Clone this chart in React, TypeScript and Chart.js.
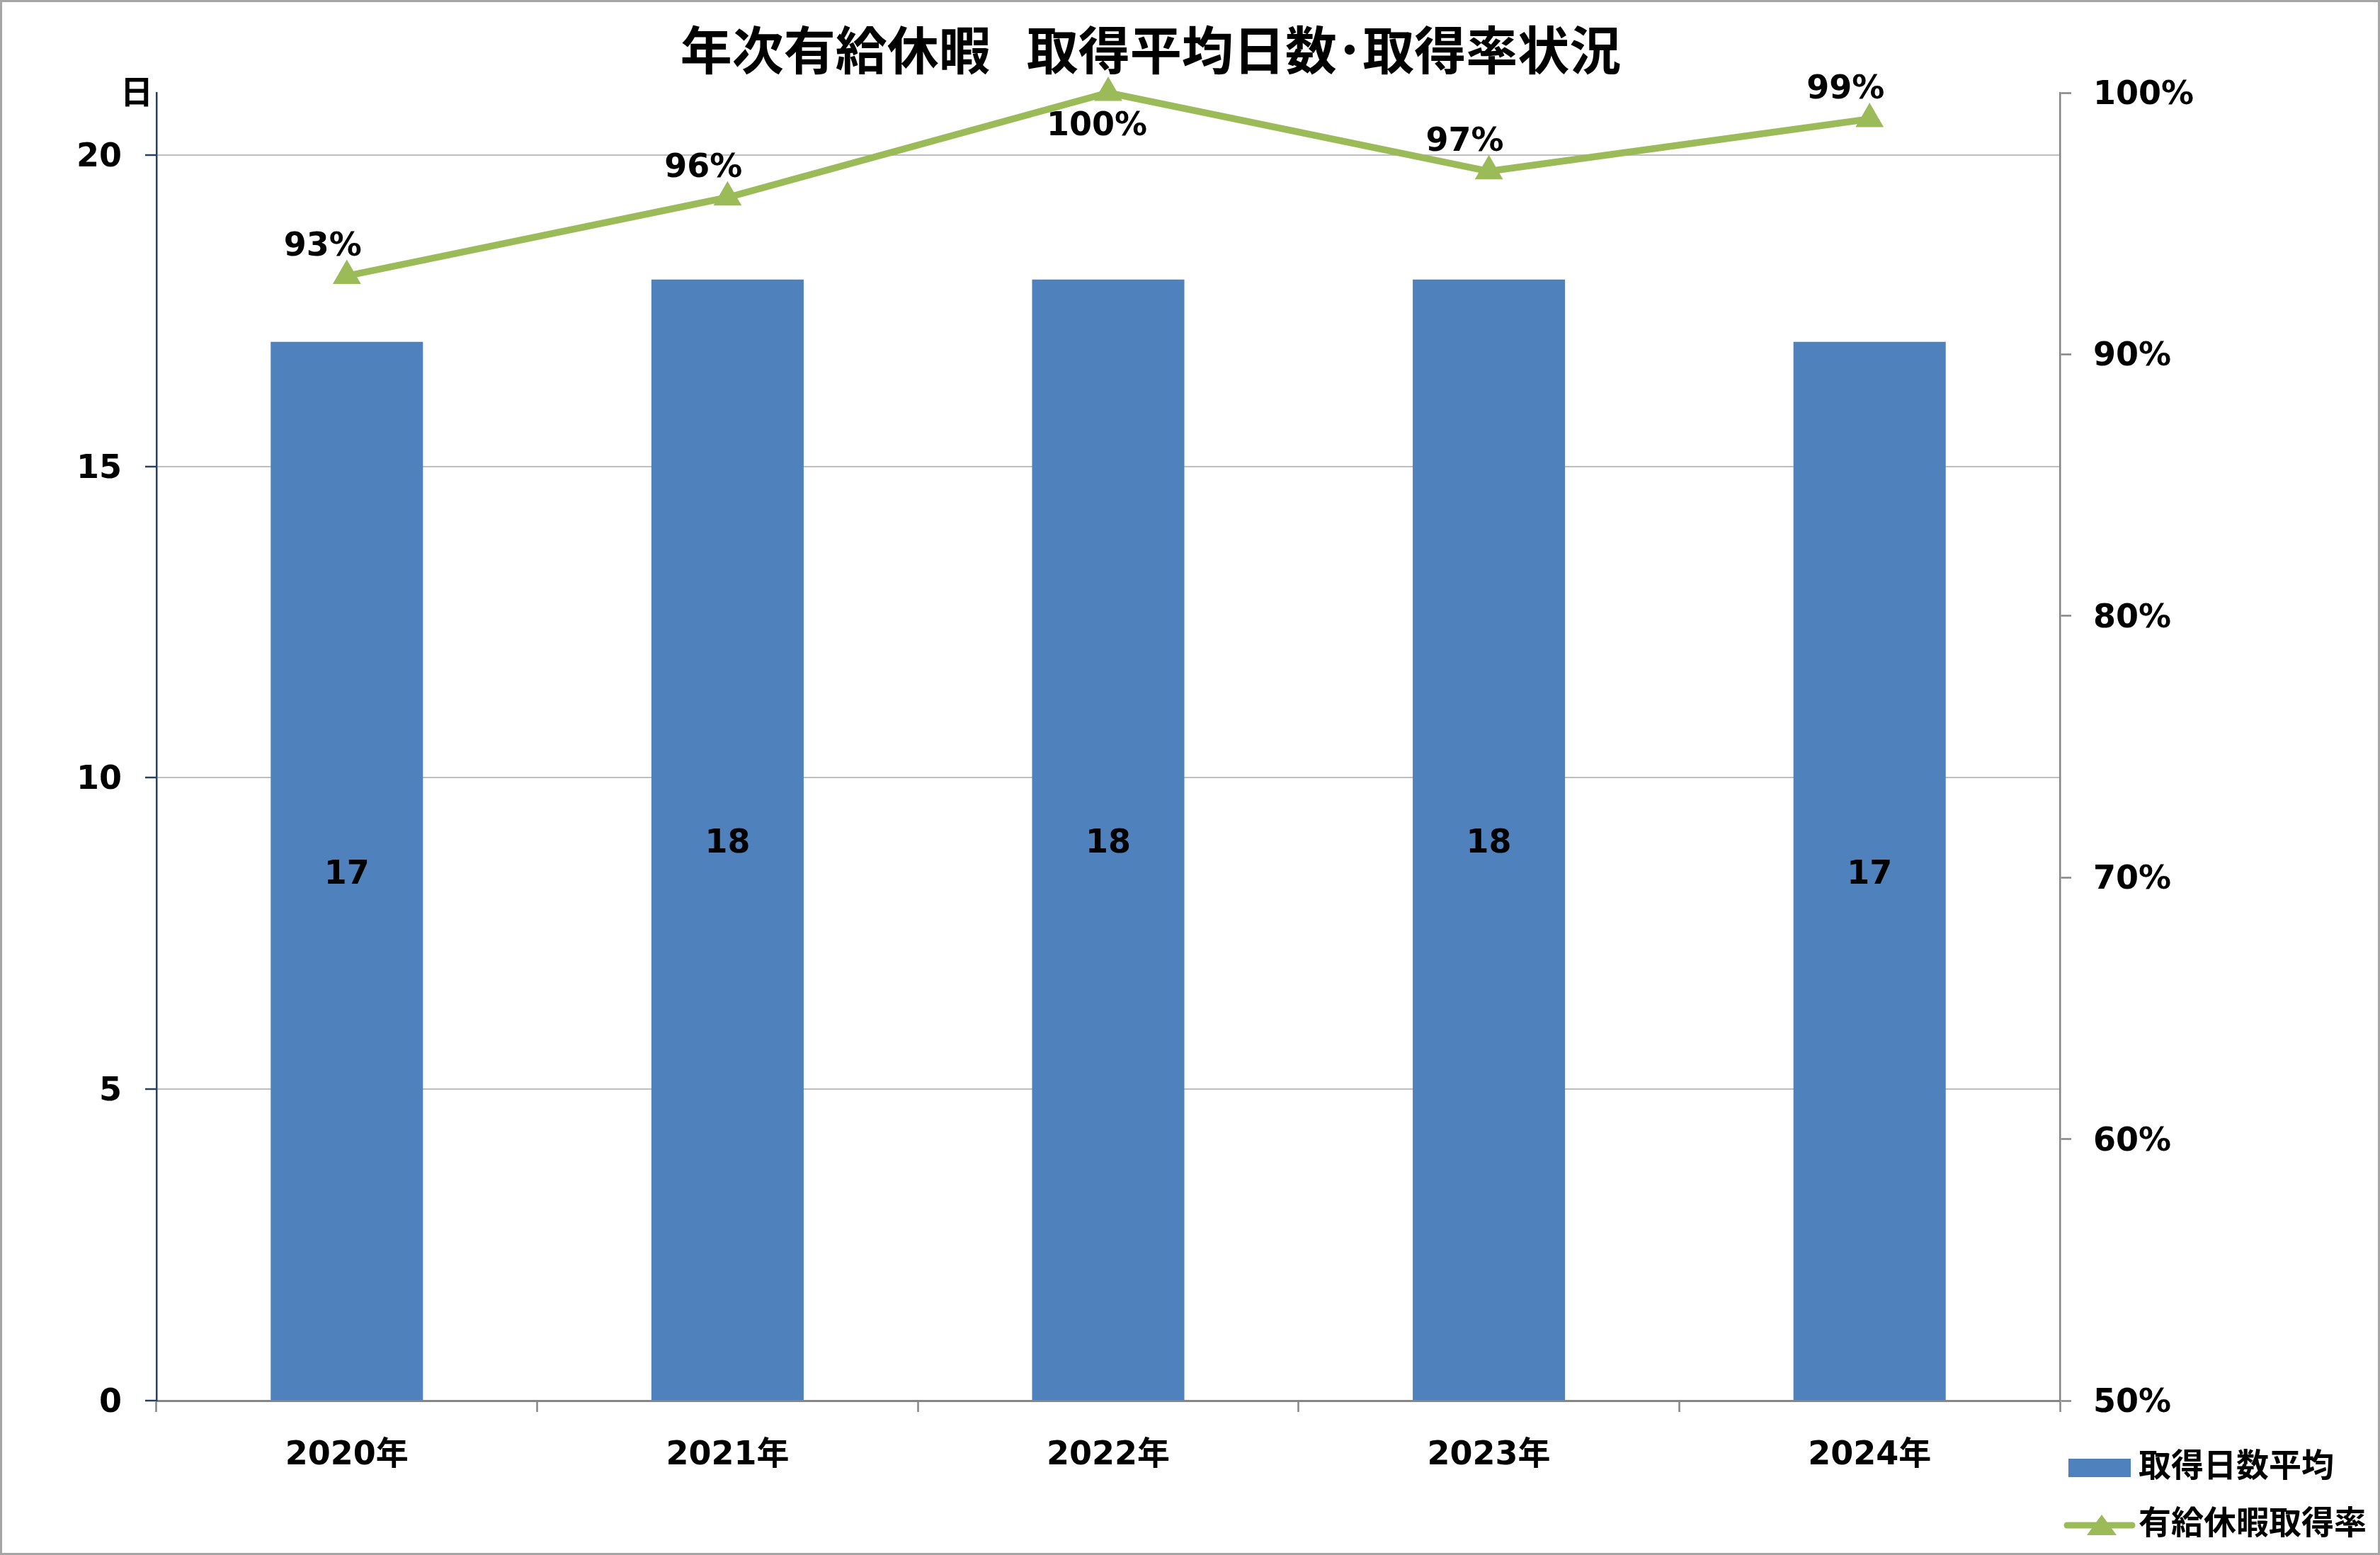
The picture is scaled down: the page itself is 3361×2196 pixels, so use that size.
import { useEffect, useRef } from "react"
import { Chart, registerables } from "chart.js"

Chart.register(...registerables)

const FONT = "'DejaVu Sans', 'Noto Sans CJK JP', sans-serif"
const BAR_COLOR = "#4F81BD"
const LINE_COLOR = "#9BBB59"
const AXIS_GRAY = "#868686"
const GRID_GRAY = "#BFBFBF"
const NAVY = "#254061"

const title = "年次有給休暇  取得平均日数･取得率状況"
const years = ["2020年", "2021年", "2022年", "2023年", "2024年"]
const avgDays = [17, 18, 18, 18, 17]
const takeRate = [93, 96, 100, 97, 99]
const dayTicks = [0, 5, 10, 15, 20]
const rateTicks = [50, 60, 70, 80, 90, 100]
const dayUnit = "日"

const tickFont = { family: FONT, size: 46, weight: "bold" as const }

// numbers on the bars and above the line points
const valueLabels = {
  id: "valueLabels",
  afterDatasetsDraw(chart: any) {
    const { ctx } = chart
    ctx.save()
    ctx.font = `bold 46px ${FONT}`
    ctx.fillStyle = "#000"
    ctx.textAlign = "center"
    ctx.textBaseline = "middle"
    chart.getDatasetMeta(0).data.forEach((bar: any, i: number) => {
      ctx.fillText(String(avgDays[i]), bar.x, (bar.y + bar.base) / 2 + 6)
    })
    const rateMax = chart.scales.y1.max
    chart.getDatasetMeta(1).data.forEach((pt: any, i: number) => {
      const v = takeRate[i]
      const below = v >= rateMax
      ctx.fillText(`${v}%`, pt.x + (below ? -16 : -34), pt.y + (below ? 48 : -41))
    })
    ctx.restore()
  },
}

// unit label on top of the left axis + legend in the lower right corner
const extras = {
  id: "extras",
  afterDraw(chart: any) {
    const { ctx, chartArea } = chart
    const sets = chart.data.datasets
    ctx.save()
    ctx.font = `bold 46px ${FONT}`
    ctx.fillStyle = "#000"
    ctx.textAlign = "center"
    ctx.textBaseline = "middle"
    ctx.fillText(dayUnit, chartArea.left - 28, chartArea.top + 3)

    const r = chartArea.right
    const y1 = chartArea.bottom + 95
    const y2 = chartArea.bottom + 176

    ctx.fillStyle = BAR_COLOR
    ctx.fillRect(r + 12, y1 - 13, 88, 26)

    ctx.strokeStyle = LINE_COLOR
    ctx.lineWidth = 9
    ctx.lineCap = "round"
    ctx.beginPath()
    ctx.moveTo(r + 10, y2)
    ctx.lineTo(r + 102, y2)
    ctx.stroke()
    ctx.fillStyle = LINE_COLOR
    ctx.beginPath()
    ctx.moveTo(r + 59, y2 - 15)
    ctx.lineTo(r + 80, y2 + 14)
    ctx.lineTo(r + 38, y2 + 14)
    ctx.closePath()
    ctx.fill()

    ctx.fillStyle = "#000"
    ctx.textAlign = "left"
    ctx.fillText(sets[0].label, r + 111, y1)
    ctx.fillText(sets[1].label, r + 111, y2)
    ctx.restore()
  },
}

function ComboChart() {
  const chartRef = useRef<HTMLCanvasElement>(null)
  const chartInstance = useRef<Chart | null>(null)

  useEffect(() => {
    if (!chartRef.current) return
    if (chartInstance.current) chartInstance.current.destroy()
    const ctx = chartRef.current.getContext("2d")
    if (!ctx) return

    chartInstance.current = new Chart(ctx, {
      type: "bar",
      data: {
        labels: years,
        datasets: [
          {
            type: "bar",
            label: "取得日数平均",
            data: avgDays,
            backgroundColor: BAR_COLOR,
            barPercentage: 0.4,
            categoryPercentage: 1,
            yAxisID: "y",
            order: 2,
          },
          {
            type: "line",
            label: "有給休暇取得率",
            data: takeRate,
            borderColor: LINE_COLOR,
            backgroundColor: LINE_COLOR,
            borderWidth: 9.5,
            pointStyle: "triangle",
            pointRadius: 23,
            pointBorderWidth: 0,
            pointBackgroundColor: LINE_COLOR,
            tension: 0,
            clip: false,
            yAxisID: "y1",
            order: 1,
          },
        ] as any,
      },
      options: {
        responsive: false,
        animation: false,
        layout: { padding: { left: 0, right: 111, top: 0, bottom: 0 } },
        plugins: {
          legend: { display: false },
          tooltip: { enabled: false },
          title: {
            display: true,
            text: title,
            color: "#000",
            font: { family: FONT, size: 73, weight: "bold" },
            padding: { top: 32, bottom: 8.4 },
          },
        },
        scales: {
          x: {
            grid: {
              offset: true,
              drawOnChartArea: false,
              tickLength: 16,
              tickColor: AXIS_GRAY,
              tickWidth: 2.5,
            },
            border: { color: AXIS_GRAY, width: 3 },
            ticks: { font: tickFont, color: "#000", padding: 34 },
            afterFit: (s: any) => {
              s.height = 215
            },
          },
          y: {
            position: "left",
            min: 0,
            max: 21,
            afterBuildTicks: (s: any) => {
              s.ticks = dayTicks.map((v) => ({ value: v }))
            },
            grid: {
              color: (c: any) => (c.tick && c.tick.value === 0 ? "rgba(0,0,0,0)" : GRID_GRAY),
              lineWidth: 2,
              tickLength: 16,
              tickColor: NAVY,
              tickWidth: 2.5,
            },
            border: { color: NAVY, width: 2.5 },
            ticks: { font: tickFont, color: "#000", padding: 33, labelOffset: 4 },
            afterFit: (s: any) => {
              s.width = 218
            },
          },
          y1: {
            position: "right",
            min: 50,
            max: 100,
            afterBuildTicks: (s: any) => {
              s.ticks = rateTicks.map((v) => ({ value: v }))
            },
            grid: {
              drawOnChartArea: false,
              tickLength: 16,
              tickColor: AXIS_GRAY,
              tickWidth: 2.5,
            },
            border: { color: AXIS_GRAY, width: 2.5 },
            ticks: {
              font: tickFont,
              color: "#000",
              padding: 31,
              labelOffset: 4,
              callback: (v: any) => `${v}%`,
            },
            afterFit: (s: any) => {
              s.width = 338
            },
          },
        },
      },
      plugins: [valueLabels, extras],
    })

    return () => {
      if (chartInstance.current) {
        chartInstance.current.destroy()
        chartInstance.current = null
      }
    }
  }, [])

  return <canvas ref={chartRef} width={3355} height={2190} style={{ display: "block" }} />
}

export default function App() {
  return (
    <div
      style={{
        position: "absolute",
        left: 0,
        top: 0,
        width: 3361,
        height: 2196,
        boxSizing: "border-box",
        border: "3px solid #A6A6A6",
        background: "#fff",
        overflow: "hidden",
      }}
    >
      <ComboChart />
    </div>
  )
}
